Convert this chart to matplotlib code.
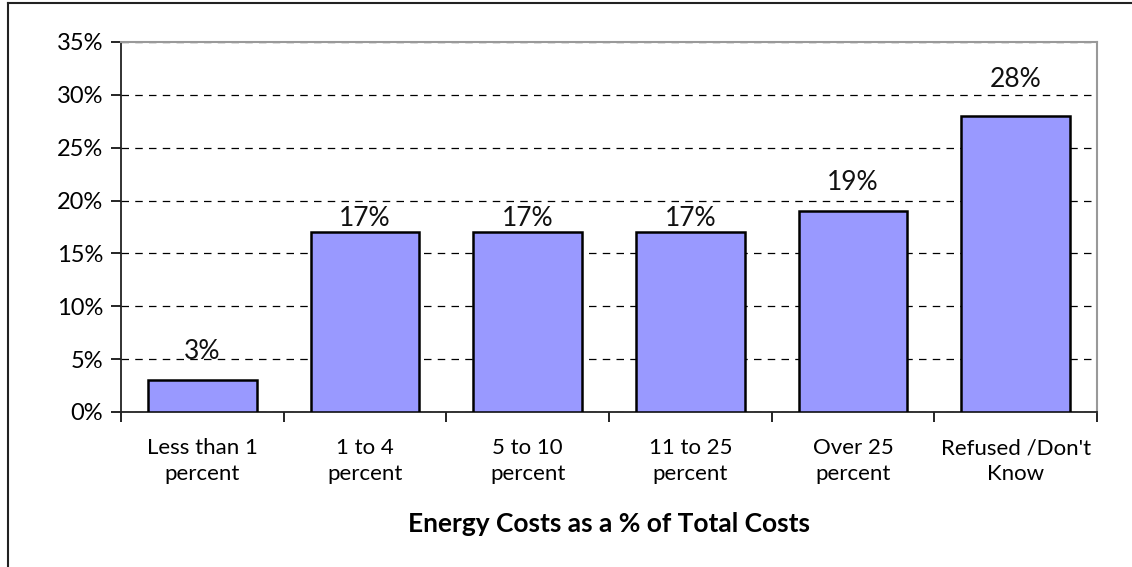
import numpy as np
import matplotlib.pyplot as plt
from matplotlib.lines import Line2D
from matplotlib.ticker import MultipleLocator, FuncFormatter

categories = ['Less than 1\npercent', '1 to 4\npercent', '5 to 10\npercent',
              '11 to 25\npercent', 'Over 25\npercent', 'Refused /Don\'t\nKnow']
shares = [3, 17, 17, 17, 19, 28]
x_title = 'Energy Costs as a % of Total Costs'

# gap (px) between bar top and its value label
label_gap = [21, 6, 6, 6, 21, 29]

BAR_COLOR = '#9999FF'
FONT = ['Lato', 'DejaVu Sans']


def run():
    plt.rcParams['font.family'] = FONT
    fig = plt.figure(figsize=(11.32, 5.67), dpi=100)
    W, H = 1132, 567
    ax = fig.add_axes([121 / W, 1 - 412 / H, (1097 - 121) / W, (412 - 42) / H])

    x = np.arange(len(categories))
    ax.bar(x, shares, width=0.67, color=BAR_COLOR, edgecolor='black',
           linewidth=1.8, zorder=3)
    for xi, v, g in zip(x, shares, label_gap):
        ax.annotate(f'{v}%', (xi, v), xytext=(0, g * 0.72), textcoords='offset points',
                    ha='center', va='baseline', fontsize=19, color='#111111')

    ax.set_xlim(-0.5, len(categories) - 0.5)
    ax.set_ylim(0, 35)
    ax.yaxis.set_major_locator(MultipleLocator(5))
    ax.yaxis.set_major_formatter(FuncFormatter(lambda v, p: f'{v:.0f}%'))
    ax.yaxis.grid(True, color='black', linestyle=(0, (6, 5)), linewidth=0.9, zorder=0)
    ax.set_axisbelow(True)
    # no dashed line along the top border
    ax.get_ygridlines()[-1].set_visible(False)

    # ticks between categories on x, labels centred under bars
    ax.set_xticks(np.arange(len(categories) + 1) - 0.5)
    ax.set_xticklabels([])
    ax.set_xticks(x, minor=True)
    ax.set_xticklabels(categories, minor=True, fontsize=16, linespacing=1.35)
    ax.tick_params(axis='x', which='minor', length=0, pad=19)
    ax.tick_params(axis='x', which='major', length=7, width=1.2, direction='out')
    ax.tick_params(axis='y', length=7, width=1.2, labelsize=17, pad=6)

    for s in ['left', 'bottom']:
        ax.spines[s].set_linewidth(1.3)
        ax.spines[s].set_color('#222222')
    for s in ['top', 'right']:
        ax.spines[s].set_linewidth(1.5)
        ax.spines[s].set_color('#999999')

    ax.set_xlabel(x_title, fontsize=19, fontweight='bold', labelpad=20)

    # outer frame of the chart, open at right and bottom
    fig.add_artist(Line2D([8 / W, 8 / W], [0, 1 - 3 / H], color='#222222', lw=1.5))
    fig.add_artist(Line2D([8 / W, 1], [1 - 3 / H, 1 - 3 / H], color='#222222', lw=1.5))

    fig.savefig('out.png', dpi=100)


if __name__ == '__main__':
    run()
